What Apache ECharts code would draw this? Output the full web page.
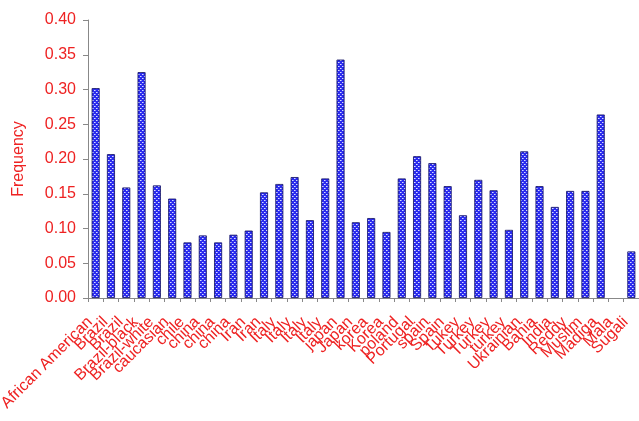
<!DOCTYPE html>
<html><head><meta charset="utf-8">
<script src="https://cdn.jsdelivr.net/npm/echarts@6/dist/echarts.min.js"></script>
<style>html,body{margin:0;padding:0;background:#fff}#c{width:639px;height:421px}</style>
</head><body><div id="c"></div>
<script>
var categories = ["African American","Brazil","Brazil","Brazil-black","Brazil-white","caucasian","chile","china","china","china","Iran","Iran","Italy","Italy","Italy","Italy","japan","Japan","korea","Korea","poland","Portugal","spain","Spain","Tukey","Turkey","Turkey","turkey","Ukrainian","Bahia","India","Reddy","Muslim","Madiga","Mala","Sugali"];
var frequency = [0.302,0.207,0.159,0.325,0.162,0.143,0.080,0.090,0.080,0.091,0.097,0.152,0.164,0.174,0.112,0.172,0.343,0.109,0.115,0.095,0.172,0.204,0.194,0.161,0.119,0.170,0.155,0.098,0.211,0.161,0.131,0.154,0.154,0.264,null,0.067];
var yTicks = [0,0.05,0.10,0.15,0.20,0.25,0.30,0.35,0.40];

var pc = document.createElement('canvas');
pc.width = 4; pc.height = 4;
var g = pc.getContext('2d');
g.fillStyle = '#2a2aee'; g.fillRect(0,0,4,4);
g.fillStyle = '#d8dcff'; g.fillRect(0,0,1,1); g.fillRect(2,2,1,1);
g.fillStyle = '#8890ff'; g.fillRect(1,0,1,1); g.fillRect(3,2,1,1);

var font = 'Liberation Sans, Arial, sans-serif';
var chart = echarts.init(document.getElementById('c'));
chart.setOption({
  animation:false,
  grid:{left:88,right:0,top:20,bottom:123,containLabel:false,outerBoundsMode:'none'},
  xAxis:{type:'category',data:categories,boundaryGap:true,
    axisLine:{lineStyle:{color:'#888',width:1}},
    axisTick:{show:true,alignWithLabel:false,length:4,lineStyle:{color:'#888'}},
    axisLabel:{interval:0,rotate:45,color:'#ee2222',fontFamily:font,fontSize:16,margin:16,padding:[0,8,0,0],hideOverlap:false}},
  yAxis:{type:'value',min:0,max:0.4,interval:0.05,
    name:'Frequency',nameLocation:'middle',nameGap:61,
    nameTextStyle:{color:'#ee2222',fontFamily:font,fontSize:16},
    axisLine:{show:true,lineStyle:{color:'#888'}},
    axisTick:{show:true,length:5,lineStyle:{color:'#888'}},
    splitLine:{show:false},
    axisLabel:{color:'#ee2222',fontFamily:font,fontSize:16,margin:12,
      formatter:function(v){return v.toFixed(2);}}},
  series:[{type:'bar',data:frequency,barWidth:8,
    itemStyle:{color:{image:pc,repeat:'repeat'},borderColor:'#101060',borderWidth:0.8}}]
});
</script></body></html>
